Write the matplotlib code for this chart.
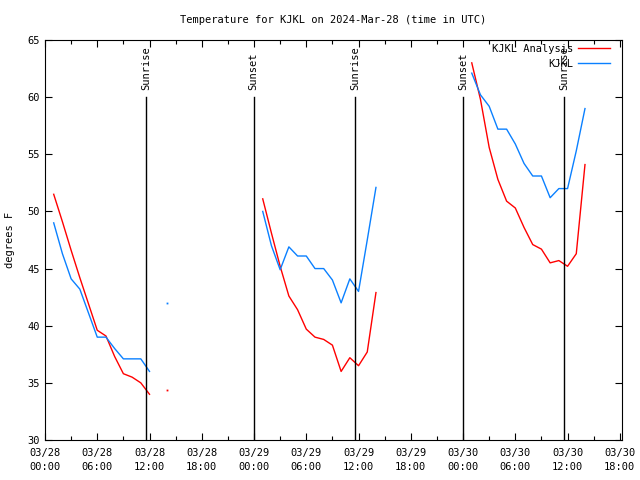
import numpy as np
import pandas as pd
import matplotlib
matplotlib.use("Agg")
import matplotlib.pyplot as plt
import matplotlib.dates as mdates

# hourly values, hours since 2024-03-28 00:00 UTC (nan = no data)
hours = np.arange(0, 63)
nan = np.nan
analysis = [nan, 51.5, 49.1, 46.6, 44.2, 41.9, 39.6, 39.1, 37.3, 35.8, 35.5, 35.0,
            34.0, nan, 34.4, nan, nan, nan, nan, nan, nan, nan, nan, nan,
            nan, 51.1, 48.1, 45.2, 42.6, 41.4, 39.7, 39.0, 38.8, 38.3, 36.0, 37.2,
            36.5, 37.7, 42.9, nan, nan, nan, nan, nan, nan, nan, nan, nan,
            nan, 63.0, 59.8, 55.6, 52.8, 50.9, 50.3, 48.6, 47.1, 46.7, 45.5, 45.7,
            45.2, 46.3, 54.1]
obs = [nan, 49.0, 46.3, 44.1, 43.2, 41.1, 39.0, 39.0, 38.0, 37.1, 37.1, 37.1,
       36.0, nan, 42.0, nan, nan, nan, nan, nan, nan, nan, nan, nan,
       nan, 50.0, 47.0, 44.9, 46.9, 46.1, 46.1, 45.0, 45.0, 44.0, 42.0, 44.1,
       43.0, 47.5, 52.1, nan, nan, nan, nan, nan, nan, nan, nan, nan,
       nan, 62.1, 60.2, 59.2, 57.2, 57.2, 55.9, 54.2, 53.1, 53.1, 51.2, 52.0,
       52.0, 55.3, 59.0]

sun_times = ["2024-03-28 11:38", "2024-03-28 23:57", "2024-03-29 11:38",
             "2024-03-29 23:58", "2024-03-30 11:38"]
sun_names = ["Sunrise", "Sunset", "Sunrise", "Sunset", "Sunrise"]

base = pd.Timestamp("2024-03-28 00:00")
times = base + pd.to_timedelta(hours, unit="h")
analysis = np.array(analysis)
obs = np.array(obs)

plt.rcParams["font.family"] = ["DejaVu Sans Mono"]
fs = 7.5

fig = plt.figure(figsize=(6.4, 4.8), dpi=100)
ax = fig.add_axes([45/640, 1 - 440/480, 577/640, 400/480])

red = "#ff0000"
blue = "#0a80ff"
ax.plot(times, analysis, color=red, lw=1.0, label="KJKL Analysis")
ax.plot(times, obs, color=blue, lw=1.0, label="KJKL")

# isolated points (no neighbours) drawn as dots like gnuplot does
for vals, c in [(analysis, red), (obs, blue)]:
    prev = np.concatenate([[nan], vals[:-1]])
    nxt = np.concatenate([vals[1:], [nan]])
    lone = ~np.isnan(vals) & np.isnan(prev) & np.isnan(nxt)
    ax.plot(times[lone], vals[lone], "s", color=c, ms=1.3, mew=0)

for t, name in zip(sun_times, sun_names):
    t = pd.Timestamp(t)
    ax.plot([t, t], [30, 60], color="black", lw=1.0)
    ax.text(t, 60.6, name, rotation=90, ha="center", va="bottom", fontsize=fs)

ax.set_xlim(base, base + pd.Timedelta(hours=66.25))
ax.set_ylim(30, 65)
ax.set_yticks(np.arange(30, 66, 5))
ax.xaxis.set_major_locator(mdates.HourLocator(byhour=[0, 6, 12, 18]))
ax.xaxis.set_minor_locator(mdates.HourLocator(byhour=[3, 9, 15, 21]))
ax.xaxis.set_major_formatter(mdates.DateFormatter("%m/%d\n%H:%M"))
for lab in ax.get_xticklabels():
    lab.set_linespacing(1.4)

ax.tick_params(which="both", direction="in", top=True, right=True,
               labelsize=fs, width=0.8)
ax.tick_params(which="major", length=5)
ax.tick_params(which="minor", length=3)
ax.tick_params(axis="x", pad=6)
ax.tick_params(axis="y", pad=4)
for s in ax.spines.values():
    s.set_linewidth(0.8)

ax.set_title("Temperature for KJKL on 2024-Mar-28 (time in UTC)", fontsize=fs, pad=12)
ax.set_ylabel("degrees F", fontsize=fs)
ax.yaxis.set_label_coords(-0.052, 0.5)

leg = ax.legend(loc="upper right", bbox_to_anchor=(0.979, 0.99), frameon=False,
                markerfirst=False, fontsize=fs, borderpad=0, borderaxespad=0,
                handlelength=3.1, handletextpad=0.4, labelspacing=0.45)

fig.savefig("out.png", dpi=100)
